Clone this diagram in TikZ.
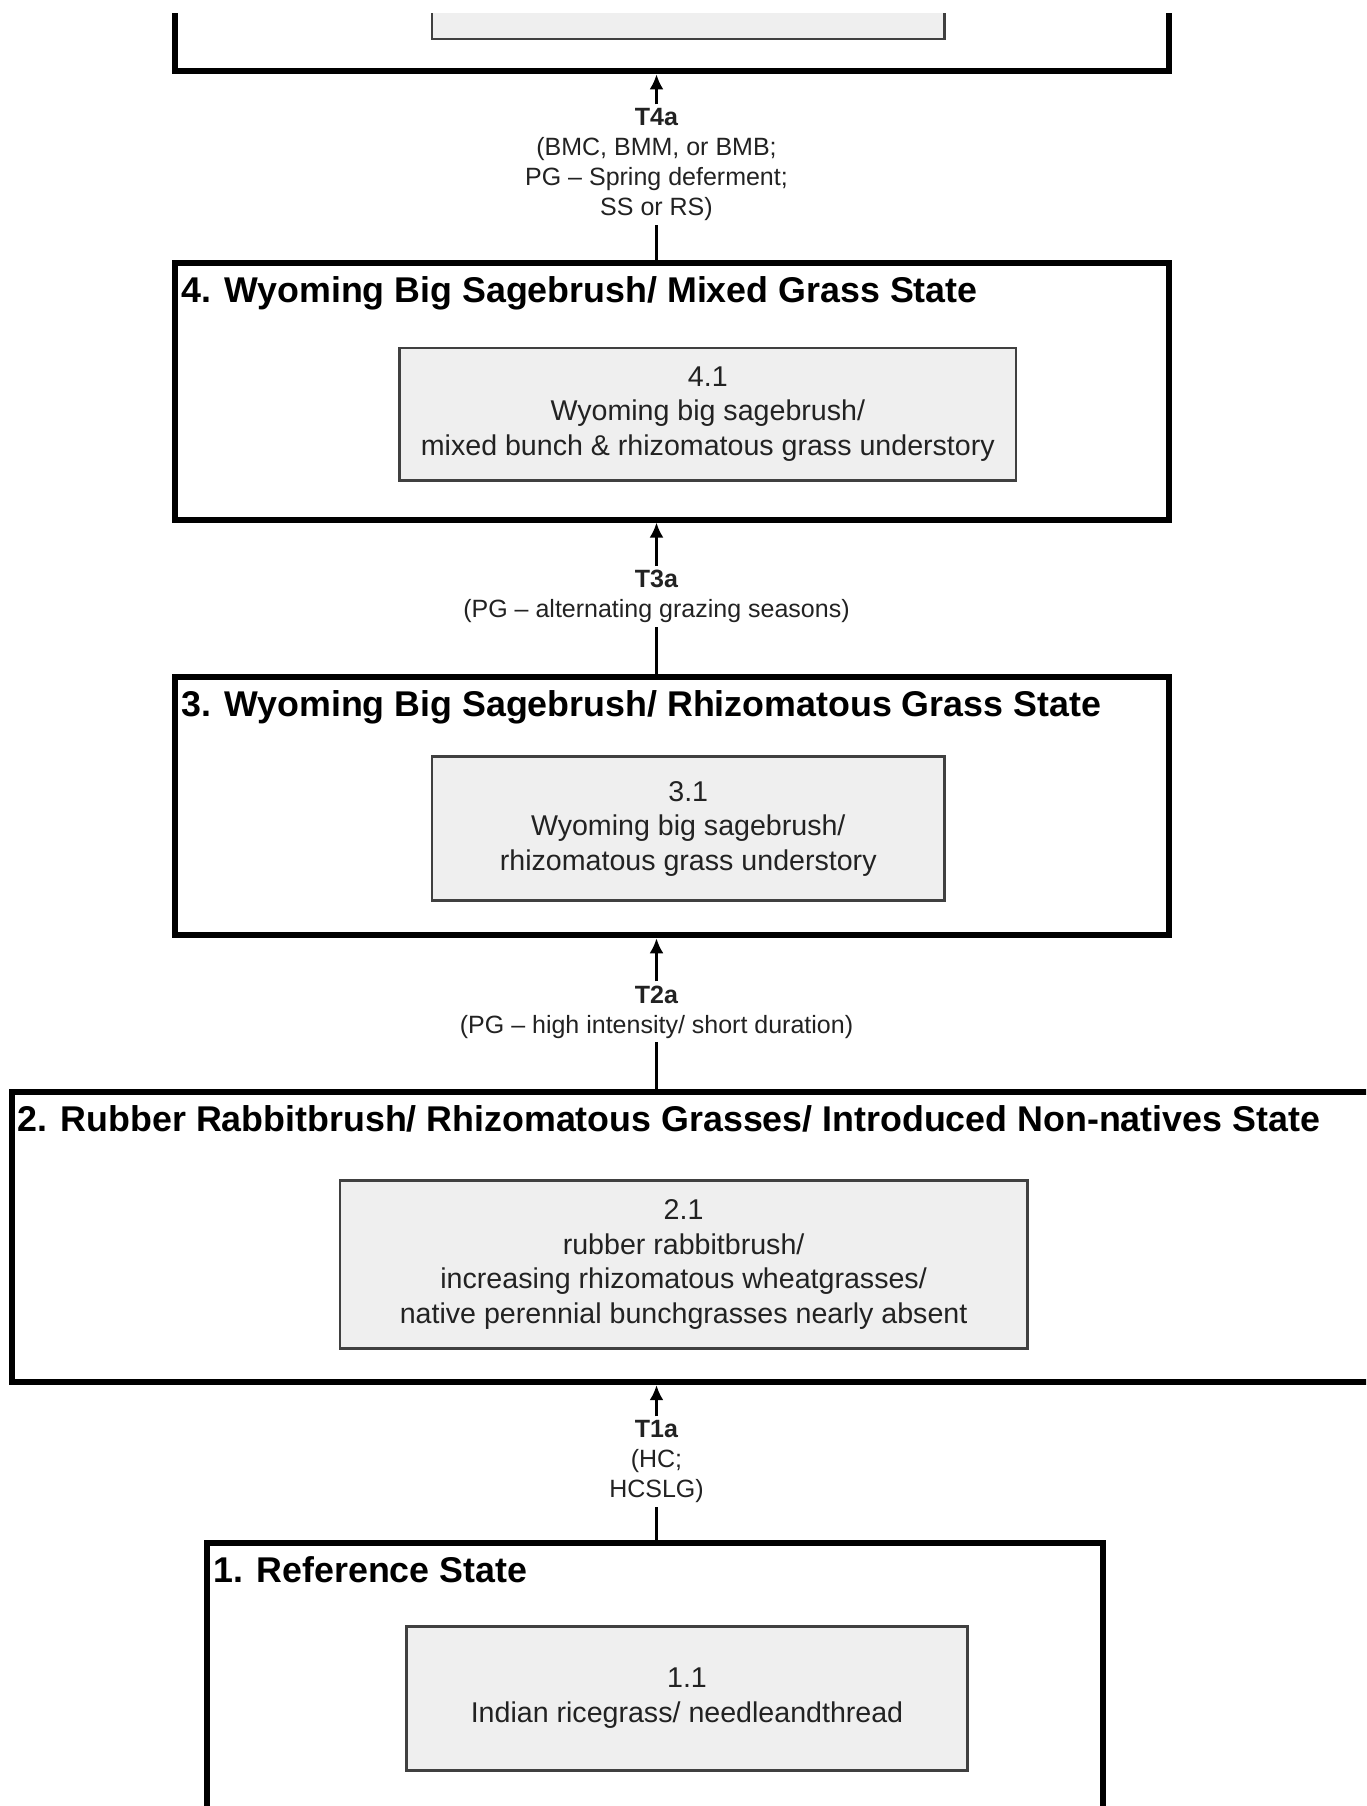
\documentclass[tikz,border=0pt]{standalone}
\usepackage{fontspec}
\setmainfont{Liberation Sans}
\usetikzlibrary{arrows.meta}
\definecolor{innerfill}{HTML}{EFEFEF}
\definecolor{innerline}{HTML}{404040}
\definecolor{textgray}{HTML}{222222}
\begin{document}
\begin{tikzpicture}[x=1pt,y=-1pt,
  statebox/.style={draw=black, line width=6pt, fill=white, inner sep=0pt, outer sep=0pt, anchor=north west},
  phasebox/.style={draw=innerline, line width=2.5pt, fill=innerfill, inner sep=0pt, outer sep=0pt, align=center,
    text=textgray, font=\fontsize{28.6}{34.5}\selectfont},
  titletext/.style={anchor=base west, inner sep=0pt, text=black, font=\bfseries\fontsize{35.8}{40}\selectfont},
  translabel/.style={fill=white, inner sep=4pt, align=center, text=textgray, font=\fontsize{25}{30}\selectfont},
  connline/.style={draw=black, line width=2.5pt},
  arrline/.style={draw=black, line width=2.5pt, shorten >=3pt, -{Latex[length=15pt,width=14pt]}}
]
\useasboundingbox (0,0) rectangle (1366,1806);
\fill[white] (0,0) rectangle (1366,1806);
\clip (0,14) rectangle (1366,1806);

% state 5 (cut off)
\node[statebox, minimum width=994pt, minimum height=400pt] (s5) at (175,-328.6) {};
\node[phasebox, minimum width=512.5pt, minimum height=200pt] (p5) at (688.25,-61) {};

% state 4
\node[statebox, minimum width=994pt, minimum height=257pt] (s4) at (175,262.6) {};
\node[titletext] (t4) at ([xshift=6pt,yshift=-39.5pt]s4.north west) {4. Wyoming Big Sagebrush/ Mixed Grass State};
\node[phasebox, minimum width=616.2pt, minimum height=132.5pt] (p4) at (707.8,414) {4.1\\Wyoming big sagebrush/\\mixed bunch \& rhizomatous grass understory};

% state 3
\node[statebox, minimum width=994pt, minimum height=258pt] (s3) at (175,677.3) {};
\node[titletext] (t3) at ([xshift=6pt,yshift=-39.5pt]s3.north west) {3. Wyoming Big Sagebrush/ Rhizomatous Grass State};
\node[phasebox, minimum width=512.5pt, minimum height=144pt] (p3) at (688.25,828.7) {3.1\\Wyoming big sagebrush/\\rhizomatous grass understory};

% state 2
\node[statebox, minimum width=1420pt, minimum height=290.3pt] (s2) at (11.5,1091.9) {};
\node[titletext] (t2) at ([xshift=6pt,yshift=-39.5pt]s2.north west) {2. Rubber Rabbitbrush/ Rhizomatous Grasses/ Introduced Non-natives State};
\node[phasebox, minimum width=687.6pt, minimum height=168.1pt] (p2) at (683.6,1264.6) {2.1\\rubber rabbitbrush/\\increasing rhizomatous wheatgrasses/\\native perennial bunchgrasses nearly absent};

% state 1
\node[statebox, minimum width=896.1pt, minimum height=400pt] (s1) at (207.3,1543.4) {};
\node[titletext] (t1) at ([xshift=6pt,yshift=-39.5pt]s1.north west) {1. Reference State};
\node[phasebox, minimum width=560.9pt, minimum height=144pt] (p1) at (687,1698.3) {1.1\\Indian ricegrass/ needleandthread};

% transitions
\node[translabel] (l4) at (656.5,164.7) {\textbf{T4a}\\(BMC, BMM, or BMB;\\PG – Spring deferment;\\SS or RS)};
\node[translabel] (l3) at (656.5,596.7) {\textbf{T3a}\\(PG – alternating grazing seasons)};
\node[translabel] (l2) at (656.5,1011.9) {\textbf{T2a}\\(PG – high intensity/ short duration)};
\node[translabel] (l1) at (656.5,1461.7) {\textbf{T1a}\\(HC;\\HCSLG)};

\draw[connline] (l4.south) -- (l4.south |- s4.north);
\draw[arrline] (l4.north) -- (l4.north |- s5.south);
\draw[connline] (l3.south) -- (l3.south |- s3.north);
\draw[arrline] (l3.north) -- (l3.north |- s4.south);
\draw[connline] (l2.south) -- (l2.south |- s2.north);
\draw[arrline] (l2.north) -- (l2.north |- s3.south);
\draw[connline] (l1.south) -- (l1.south |- s1.north);
\draw[arrline] (l1.north) -- (l1.north |- s2.south);
\end{tikzpicture}
\end{document}
